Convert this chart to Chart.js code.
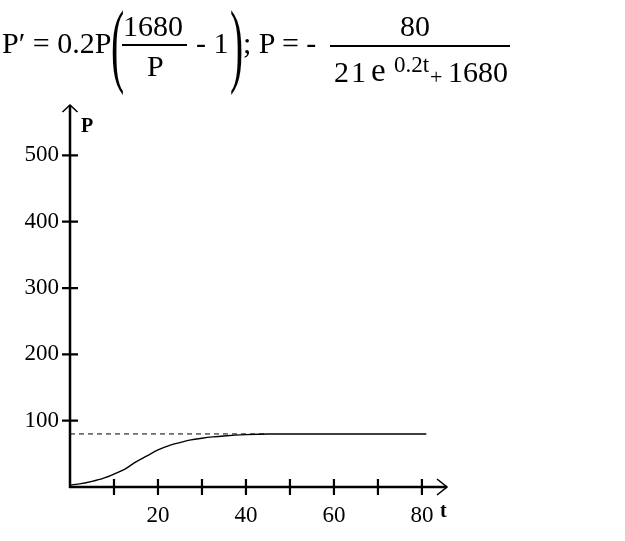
<!DOCTYPE html>
<html>
<head>
<meta charset="utf-8">
<script src="https://cdn.jsdelivr.net/npm/chart.js@4.4.0/dist/chart.umd.min.js"></script>
<style>
    html, body { margin: 0; padding: 0; background: #fff; width: 625px; height: 541px; overflow: hidden; }
    #wrap { position: relative; width: 625px; height: 541px; }
    #chart { position: absolute; left: 0; top: 0; }
    .f { position: absolute; font-family: "Liberation Serif", serif; font-size: 30px; line-height: 30px; white-space: nowrap; color: #000; }
    .sup { font-size: 23px; line-height: 23px; }
    .paren { font-size: 94px; line-height: 94px; transform: scaleX(0.42); transform-origin: left top; }
    .bar { position: absolute; height: 1.6px; background: #000; }
</style>
</head>
<body>
<div id="wrap">
    <canvas id="chart" width="625" height="541"></canvas>

    <!-- fórmula -->
    <span class="f" style="left:2px; top:28px;">P′ = 0.2P</span>
    <span class="f paren" style="left:111px; top:-4px;">(</span>
    <span class="f" style="left:123px; top:11px;">1680</span>
    <div class="bar" style="left:122px; top:44px; width:65px;"></div>
    <span class="f" style="left:147px; top:51px;">P</span>
    <span class="f" style="left:196px; top:28px;">- 1</span>
    <span class="f paren" style="left:230px; top:-4px;">)</span>
    <span class="f" style="left:243px; top:28px;">; P = -</span>
    <span class="f" style="left:400px; top:11px;">80</span>
    <div class="bar" style="left:330px; top:45px; width:180px;"></div>
    <span class="f" style="left:334px; top:57px; letter-spacing:2px;">21</span>
    <span class="f" style="left:371px; top:54px; font-size:33px; line-height:33px;">e</span>
    <span class="f sup" style="left:394px; top:53px;">0.2t</span>
    <span class="f" style="left:430px; top:66px; font-size:22px; line-height:22px;">+</span>
    <span class="f" style="left:448px; top:57px;">1680</span>
</div>

<script>
    // --- Dados ---
    const tValues = [0, 2.5, 5, 7.5, 10, 12.5, 15, 17.5, 20, 22.5, 25, 27.5, 30, 32.5, 35, 40, 45, 50, 60, 70, 81];
    const pValues = [3, 5, 8.5, 13, 19.5, 27, 38, 47, 56, 62.5, 67, 71, 73.5, 75.5, 77, 79, 80, 80, 80, 80, 80];

    // linha tracejada (assíntota P = 80)
    const limitT = [0, 45];
    const limitP = [80, 80];

    const xTickStep = 10;
    const xLabelStep = 20;
    const yTickStep = 100;
    const xMax = 85.7;
    const yMax = 576;

    const curvePoints = tValues.map((t, i) => ({ x: t, y: pValues[i] }));
    const limitPoints = limitT.map((t, i) => ({ x: t, y: limitP[i] }));

    // Plugin que desenha os eixos com setas e marcas cruzadas
    const arrowAxes = {
        id: 'arrowAxes',
        afterDatasetsDraw(chart) {
            const { ctx, chartArea: a, scales: { x, y } } = chart;
            const x0 = x.getPixelForValue(0);
            const y0 = y.getPixelForValue(0);

            ctx.save();
            ctx.strokeStyle = '#000';
            ctx.fillStyle = '#000';
            ctx.lineCap = 'butt';

            ctx.lineWidth = 2.5;
            ctx.beginPath();
            ctx.moveTo(x0, y0 + 1);
            ctx.lineTo(x0, a.top);
            ctx.moveTo(x0 - 1, y0);
            ctx.lineTo(a.right, y0);
            ctx.stroke();

            // setas
            ctx.lineWidth = 1.6;
            ctx.beginPath();
            ctx.moveTo(x0 - 7.5, a.top + 7);
            ctx.lineTo(x0, a.top);
            ctx.lineTo(x0 + 7.5, a.top + 7);
            ctx.moveTo(a.right - 10, y0 - 8);
            ctx.lineTo(a.right, y0);
            ctx.lineTo(a.right - 10, y0 + 8);
            ctx.stroke();

            // marcas
            ctx.lineWidth = 2.2;
            ctx.beginPath();
            x.ticks.forEach(t => {
                if (t.value <= 0) return;
                const px = x.getPixelForValue(t.value);
                ctx.moveTo(px, y0 - 8);
                ctx.lineTo(px, y0 + 8);
            });
            y.ticks.forEach(t => {
                if (t.value <= 0) return;
                const py = y.getPixelForValue(t.value);
                ctx.moveTo(x0 - 8, py);
                ctx.lineTo(x0 + 8, py);
            });
            ctx.stroke();

            // nomes dos eixos
            ctx.font = 'bold 20px "Liberation Serif"';
            ctx.textBaseline = 'alphabetic';
            ctx.textAlign = 'left';
            ctx.fillText('P', x0 + 11, a.top + 27);
            ctx.fillText('t', a.right - 7, y0 + 30);
            ctx.restore();
        }
    };

    const ctx = document.getElementById('chart').getContext('2d');
    new Chart(ctx, {
        type: 'line',
        data: {
            datasets: [{
                label: 'P(t)',
                data: curvePoints,
                borderColor: '#000',
                borderWidth: 1.4,
                pointRadius: 0,
                cubicInterpolationMode: 'monotone',
                fill: false
            }, {
                label: 'P = 80',
                data: limitPoints,
                borderColor: '#000',
                borderWidth: 1,
                borderDash: [5, 4],
                pointRadius: 0,
                fill: false
            }]
        },
        options: {
            responsive: false,
            animation: false,
            clip: false,
            layout: { padding: { top: 105, right: 178, bottom: 14, left: 0 } },
            plugins: {
                legend: { display: false },
                tooltip: { enabled: false }
            },
            scales: {
                x: {
                    type: 'linear',
                    min: 0,
                    max: xMax,
                    afterFit: s => { s.height = 40; },
                    grid: { display: false, drawTicks: false },
                    border: { display: false },
                    ticks: {
                        stepSize: xTickStep,
                        includeBounds: false,
                        autoSkip: false,
                        maxRotation: 0,
                        padding: 15,
                        color: '#000',
                        font: { family: '"Liberation Serif"', size: 23 },
                        callback: v => (v > 0 && v % xLabelStep === 0) ? v : ''
                    }
                },
                y: {
                    type: 'linear',
                    min: 0,
                    max: yMax,
                    afterFit: s => { s.width = 70; },
                    grid: { display: false, drawTicks: false },
                    border: { display: false },
                    ticks: {
                        stepSize: yTickStep,
                        includeBounds: false,
                        autoSkip: false,
                        padding: 11,
                        color: '#000',
                        font: { family: '"Liberation Serif"', size: 23 },
                        callback: v => v > 0 ? v : ''
                    }
                }
            }
        },
        plugins: [arrowAxes]
    });
</script>
</body>
</html>
